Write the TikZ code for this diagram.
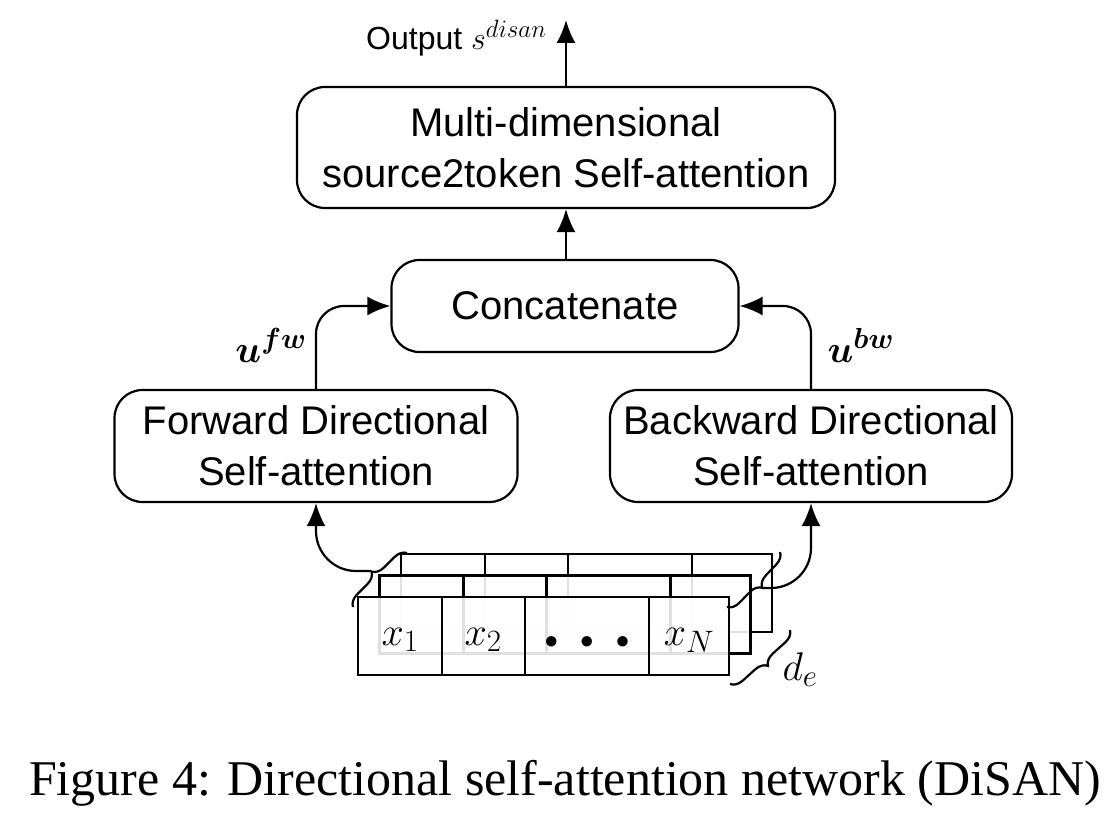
\RequirePackage{fix-cm}
\documentclass[tikz,border=0pt]{standalone}
\usepackage{fontspec}
\usepackage{amsmath,bm}
\setmainfont{Liberation Sans}
\newfontfamily\capfont{Liberation Serif}
\DeclareMathSizes{32}{32}{25}{19}
\DeclareMathSizes{38}{38}{29}{22}
\DeclareMathSizes{40}{40}{31}{23}
\usetikzlibrary{arrows.meta,decorations.pathreplacing}
\tikzset{block/.style={draw,rounded corners=28pt,line width=2.2pt,align=center,
    font=\fontsize{40}{51}\selectfont,inner sep=0pt},
    arr/.style={line width=2.2pt,-{Latex[length=23pt,width=19pt]}},
    layer/.style={draw,line width=2.2pt,fill=white,fill opacity=0.88},
    brc/.style={decorate,decoration={brace,amplitude=12pt},line width=2.2pt},
    cell/.style={font=\fontsize{40}{46}\selectfont,anchor=base}}

\begin{document}
\begin{tikzpicture}[x=1pt,y=-1pt]
\useasboundingbox (0,0) rectangle (1114,840);
% boxes
\node[block,minimum width=538pt,minimum height=121pt] (mdsa) at (566,147.5)
    {Multi-dimensional\\source2token Self-attention};
\node[block,minimum width=347pt,minimum height=92pt] (cat) at (565,306) {Concatenate};
\node[block,minimum width=403pt,minimum height=112pt] (fw) at (316,446)
    {Forward Directional\\Self-attention};
\node[block,minimum width=402pt,minimum height=112pt] (bw) at (811,446)
    {Backward Directional\\Self-attention};
% output
\coordinate (out) at (566,20);
\draw[arr] (mdsa.north) -- (out);
\node[anchor=east,font=\fontsize{32}{38}\selectfont] (outlbl) at (550,38) {Output $s^{disan}$};
\draw[arr] (cat.north -| mdsa.south) -- (mdsa.south);
\draw[arr,rounded corners=28pt] (fw.north) |- (cat.west);
\draw[arr,rounded corners=28pt] (bw.north) |- (cat.east);
\node[anchor=base east,font=\fontsize{38}{44}\selectfont] (ufw) at (310,362) {$\bm{u}^{\bm{fw}}$};
\node[anchor=base west,font=\fontsize{38}{44}\selectfont] (ubw) at (824,362) {$\bm{u}^{\bm{bw}}$};
% stacked input layers
\foreach \d in {2,1,0} {
  \begin{scope}[shift={(21.5*\d,-21.5*\d)}]
    \draw[layer] (358,597) rectangle (729,675);
    \foreach \c in {442,525,649}
      \draw[line width=2.2pt] (\c,597) -- (\c,675);
  \end{scope}
}
\node[cell] (x1) at (400,645) {$x_1$};
\node[cell] (x2) at (483,645) {$x_2$};
\node[cell,font=\fontsize{27}{30}\selectfont] (dots) at (587,648)
    {$\bullet\hspace{0.6em}\bullet\hspace{0.6em}\bullet$};
\node[cell] (xN) at (689,645) {$x_N$};
% braces
\draw[brc] (353,607) -- (407,553);
\draw[brc] (780,552) -- (727,607);
\draw[brc] (790,630) -- (730,684);
\node[anchor=base west,font=\fontsize{40}{46}\selectfont] (de) at (779,680) {$d_e$};
\coordinate (lb) at (371,571);
\coordinate (rb) at (762,588);
\draw[arr,rounded corners=40pt] (lb) -| (fw.south);
\draw[arr,rounded corners=40pt] (rb) -| (bw.south);
% caption
\node[font=\capfont\fontsize{50}{56}\selectfont] (caption) at (565,783)
    {Figure 4: Directional self-attention network (DiSAN)};
\end{tikzpicture}
\end{document}
